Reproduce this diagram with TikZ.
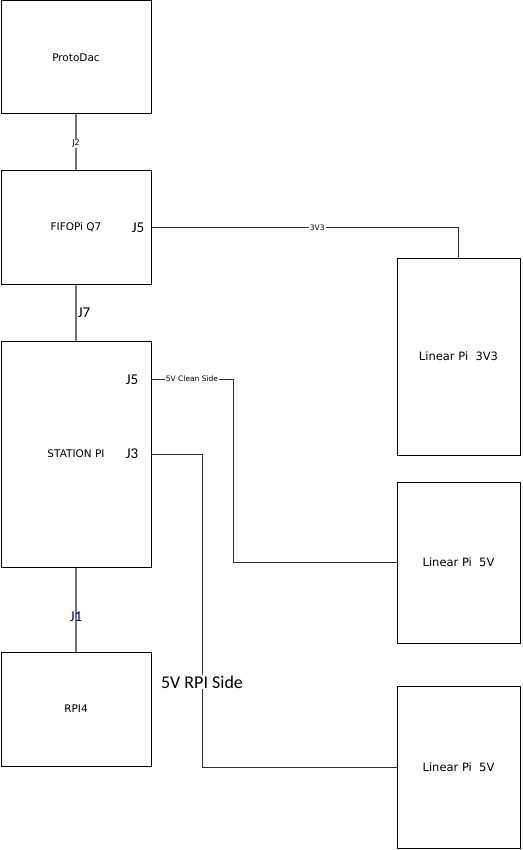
\documentclass[tikz,border=0pt]{standalone}
\usepackage{fontspec}
\setmainfont{DejaVu Sans}
\newfontfamily\jfont{Carlito}
\newcommand{\boxfont}[0]{\fontsize{10.5}{12}\selectfont}
\newcommand{\tinyfont}[0]{\fontsize{7.5}{9}\selectfont}
\newcommand{\jlab}[1]{{\jfont\fontsize{15}{17}\selectfont #1}}

\begin{document}
\begin{tikzpicture}[x=1pt, y=-1pt]
  \tikzset{board/.style={draw, line width=1pt, inner sep=0pt, align=center, font=\boxfont},
           lin/.style={board, minimum width=123pt, font=\fontsize{11.5}{13}\selectfont},
           bus/.style={draw=black!55, line width=1.6pt},
           wire/.style={draw=black!80, line width=1pt},
           tag/.style={fill=white, inner sep=1pt, font=\tinyfont}}
  \useasboundingbox (0,0) rectangle (522,850);
  % boards on the left
  \node[board, minimum width=150pt, minimum height=113pt] (pd) at (76,57.5) {ProtoDac};
  \node[board, minimum width=150pt, minimum height=113pt] (fifo) at (76,227.5) {FIFOPi Q7};
  \node[board, minimum width=150pt, minimum height=226pt] (stn) at (76,454) {STATION PI};
  \node[board, minimum width=150pt, minimum height=114pt] (rpi) at (76,709) {RPI4};
  % linear supplies
  \node[lin, minimum height=197pt] (lin1) at (458.5,356.5) {Linear Pi~ 3V3};
  \node[lin, minimum height=161pt] (lin2) at (458.5,562.5) {Linear Pi~ 5V};
  \node[lin, minimum height=162pt] (lin3) at (458.5,767) {Linear Pi~ 5V};
  % ports
  \node (f5) at (138,228) {\jlab{J5}};
  \node (s5) at (132,380) {\jlab{J5}};
  \node (s3) at (132,454) {\jlab{J3}};
  \coordinate (s5p) at (151,379);
  \coordinate (s3p) at (151,454);
  \coordinate (k1) at (233,379);
  \coordinate (k2) at (202,454);
  % stack
  \draw[bus] (pd) -- node[tag, pos=0.52, font=\fontsize{8}{9}\selectfont]{J2} (fifo);
  \draw[bus] (fifo) -- node[right, inner sep=1pt]{\jlab{J7}} (stn);
  \draw[bus] (stn) -- node[pos=0.58, inner sep=0.5pt, text=blue!60!black]{\jlab{J1}} (rpi);
  % power
  \draw[wire] (fifo.east) -| node[tag, pos=0.27]{3V3} (lin1.north);
  \draw[wire] (s5p) -- node[tag]{5V Clean Side} (k1) |- (lin2.west);
  \draw[wire] (s3p) -- (k2) |- (lin3.west);
  \node[fill=white, inner sep=1pt] (rside) at (202,682) {\jfont\fontsize{18}{20}\selectfont 5V RPI Side};
\end{tikzpicture}
\end{document}
